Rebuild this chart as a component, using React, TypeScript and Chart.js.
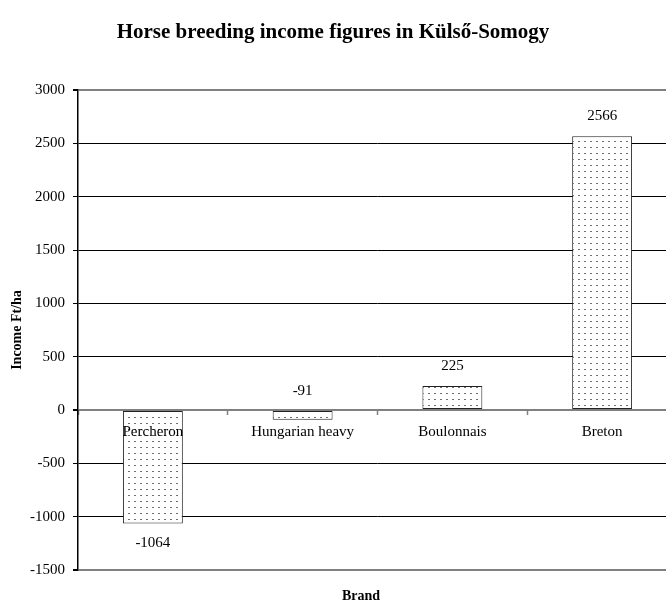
import React, { useEffect, useRef } from "react";
import { Chart, registerables } from "chart.js";

Chart.register(...registerables);

const TITLE = "Horse breeding income figures in Külső-Somogy";
const X_TITLE = "Brand";
const Y_TITLE = "Income Ft/ha";
const categories = ["Percheron", "Hungarian heavy", "Boulonnais", "Breton"];
const incomes = [-1064, -91, 225, 2566];
const Y_MIN = -1500;
const Y_MAX = 3000;
const Y_STEP = 500;

const SERIF = "'Liberation Serif', 'Times New Roman', serif";

function makePattern(): CanvasPattern | string {
  const c = document.createElement("canvas");
  c.width = 6;
  c.height = 6;
  const g = c.getContext("2d");
  if (!g) return "#fff";
  g.fillStyle = "#ffffff";
  g.fillRect(0, 0, 6, 6);
  g.fillStyle = "#707070";
  g.fillRect(2, 3, 2, 1);
  const p = g.createPattern(c, "repeat");
  return p || "#fff";
}

const textPlugin = {
  id: "customText",
  afterDatasetsDraw(chart: any) {
    const ctx = chart.ctx;
    ctx.save();
    ctx.fillStyle = "#000";
    ctx.textAlign = "center";
    ctx.textBaseline = "middle";
    ctx.font = `15px ${SERIF}`;
    const meta = chart.getDatasetMeta(0);
    const xs = chart.scales.x;
    const zero = chart.scales.y.getPixelForValue(0);
    meta.data.forEach((el: any, i: number) => {
      const v = incomes[i];
      const top = Math.min(el.y, el.base);
      const bottom = Math.max(el.y, el.base);
      const y = v < -500 ? bottom + 20 : top - 20;
      ctx.fillText(String(v), el.x, y);
      ctx.fillText(categories[i], xs.getPixelForValue(i), zero + 22);
    });
    ctx.restore();
  },
  afterDraw(chart: any) {
    const ctx = chart.ctx;
    ctx.save();
    ctx.fillStyle = "#000";
    ctx.textAlign = "center";
    ctx.textBaseline = "middle";
    ctx.font = `bold 21px ${SERIF}`;
    ctx.fillText(TITLE, 333, 33);
    ctx.font = `bold 14px ${SERIF}`;
    ctx.fillText(X_TITLE, 361, 596);
    ctx.translate(17, 330);
    ctx.rotate(-Math.PI / 2);
    ctx.fillText(Y_TITLE, 0, 0);
    ctx.restore();
  },
};

export default function App() {
  const ref = useRef<HTMLCanvasElement | null>(null);
  useEffect(() => {
    if (!ref.current) return;
    const pattern = makePattern();
    const special = (v: number) => v === Y_MAX || v === 0 || v === Y_MIN;
    const chart = new Chart(ref.current, {
      type: "bar",
      data: {
        labels: categories,
        datasets: [
          {
            data: incomes,
            backgroundColor: pattern as any,
            borderColor: "#222",
            borderWidth: 1,
            borderSkipped: false,
            barPercentage: 0.4,
            categoryPercentage: 1,
          },
        ],
      },
      options: {
        responsive: false,
        animation: false,
        layout: { padding: { top: 90, bottom: 33, left: 0, right: 0 } },
        plugins: {
          legend: { display: false },
          title: { display: false },
          tooltip: { enabled: false },
        },
        scales: {
          x: {
            position: { y: 0 } as any,
            offset: true,
            grid: {
              drawOnChartArea: false,
              drawTicks: true,
              tickLength: 5,
              tickColor: "#808080",
              tickWidth: 1.5,
              offset: true,
            },
            border: { display: false },
            ticks: {
              display: false,
              autoSkip: false,
            },
          },
          y: {
            min: Y_MIN,
            max: Y_MAX,
            ticks: {
              stepSize: Y_STEP,
              color: "#000",
              font: { family: SERIF, size: 15 },
              padding: 8,
              callback: (v: any) => String(v),
            },
            grid: {
              color: (c: any) => (special(c.tick?.value) ? "#808080" : "#000"),
              lineWidth: (c: any) => (special(c.tick?.value) ? 2 : 1),
              tickColor: "#000",
              tickLength: 5,
            },
            border: { display: true, color: "#000", width: 1.5 },
            afterFit: (scale: any) => {
              scale.width = 78;
            },
          },
        },
      },
      plugins: [textPlugin],
    });
    return () => chart.destroy();
  }, []);
  return (
    <div
      style={{
        position: "absolute",
        left: 0,
        top: 0,
        width: 666,
        height: 603,
        overflow: "hidden",
        background: "#fff",
      }}
    >
      <canvas ref={ref} width={677} height={603} style={{ display: "block" }} />
    </div>
  );
}
